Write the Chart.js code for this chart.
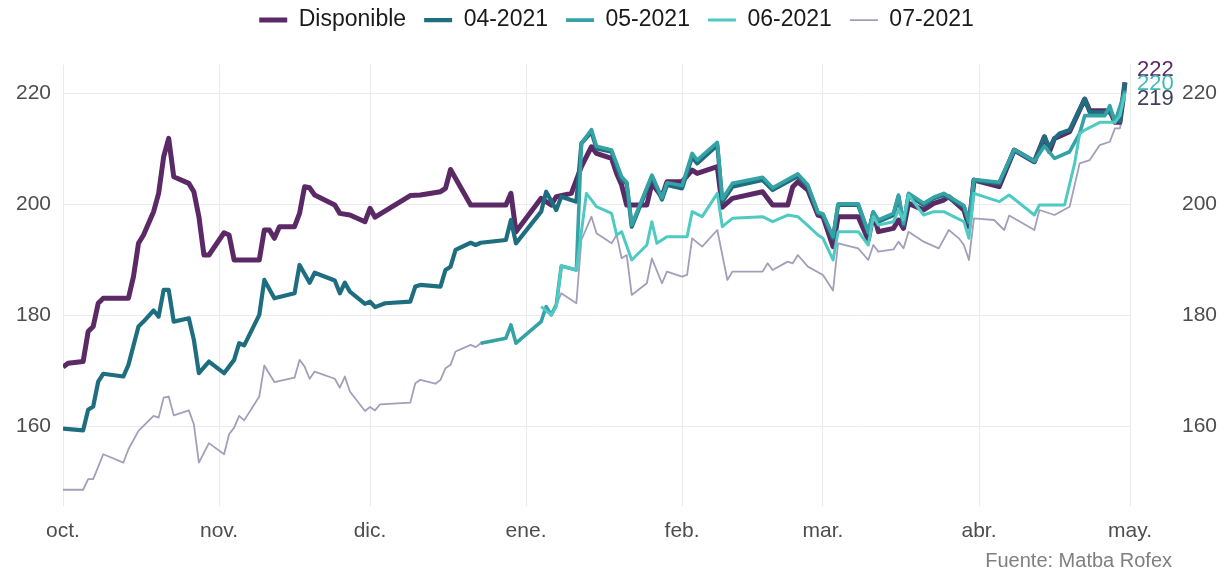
<!DOCTYPE html>
<html>
<head>
<meta charset="utf-8">
<script src="https://cdn.jsdelivr.net/npm/chart.js@4"></script>
<style>
  html, body { margin: 0; padding: 0; background: #fff; }
  #wrap { width: 1227px; height: 571px; position: relative; }
</style>
</head>
<body>
<div id="wrap"><canvas id="chart"></canvas></div>
<script>
// x = days since 1 Oct 2020
const monthStarts = [0, 31, 61, 92, 123, 151, 182, 212]
const monthLabels = ['oct.', 'nov.', 'dic.', 'ene.', 'feb.', 'mar.', 'abr.', 'may.']
const yTicks = [160, 180, 200, 220]

const seriesNames = ['Disponible', '04-2021', '05-2021', '06-2021', '07-2021']

const dispDays = [0,1,4,5,6,7,8,13,14,15,16,18,19,20,21,22,25,26,27,28,29,32,33,34,39,40,41,42,43,46,47,48,49,50,54,55,57,60,61,62,69,71,75,76,77,81,88,89,90,95,97,98,101,103,105,106,109,110,111,112,116,117,119,120,123,125,126,130,131,133,139,141,144,145,146,148,150,151,153,154,158,160,161,162,165,166,167,168,171,173,175,176,179,180,181,186,189,193,195,196,197,200,203,204,208,209,210,211]
const dispVals = [170.7,171.4,171.7,177.1,178.0,182.2,183.1,183.1,187.0,193.0,194.5,198.7,202.0,208.6,211.9,205.0,203.8,202.3,197.8,190.9,190.9,194.9,194.5,190.0,190.0,195.4,195.4,193.9,196.0,196.0,198.4,203.2,203.0,201.7,199.9,198.4,198.1,196.9,199.3,197.7,201.6,201.7,202.3,202.9,206.3,199.9,199.9,202.0,195.1,201.1,199.9,201.4,202.0,206.8,210.4,209.2,208.3,205.6,203.5,199.9,199.9,203.8,201.4,204.1,204.1,206.2,205.6,206.8,199.5,201.1,202.3,199.9,199.9,203.2,204.1,202.6,198.1,197.8,192.4,197.8,197.8,193.6,198.4,195.1,195.7,197.2,195.7,200.2,199.0,200.2,200.8,201.4,199.0,196.0,204.4,203.2,209.8,207.7,212.2,209.5,211.9,213.1,219.0,216.9,216.9,214.8,214.8,222]

const abrDays = [0,4,5,6,7,8,12,13,15,16,18,19,20,21,22,25,26,27,29,32,34,35,36,39,40,42,46,47,49,50,54,55,56,57,60,61,62,64,69,70,71,75,76,77,78,81,82,83,88,89,90,95,96,98,99,102,103,105,106,109,111,112,113,117,119,120,123,125,126,130,131,133,139,141,146,148,150,151,153,154,158,160,161,162,165,166,167,168,171,173,175,179,180,181,186,189,193,195,196,197,198,200,203,204,208,209,210,211]
const abrVals = [159.6,159.3,163.0,163.6,168.1,169.5,169.0,171.1,178.0,178.9,180.9,179.8,184.6,184.6,178.9,179.5,175.6,169.6,171.7,169.6,172.0,175.0,174.6,180.1,186.4,183.1,184.0,189.1,185.9,187.7,186.3,184.0,185.9,184.3,182.1,182.5,181.5,182.2,182.5,185.2,185.5,185.2,188.2,188.8,191.8,193.1,192.7,193.1,193.6,197.2,193.0,198.7,202.3,199.0,201.4,200.5,211.0,213.1,210.1,209.5,204.4,203.8,196.0,205.0,200.9,203.5,202.9,208.6,207.4,210.7,200.5,203.2,204.4,202.6,205.1,203.2,198.4,198.1,193.9,199.9,199.9,194.8,198.4,196.9,198.1,201.4,196.3,201.7,199.9,201.1,201.7,199.6,196.6,204.4,203.8,209.8,207.7,212.2,210.3,211.9,212.8,213.4,219.0,216.6,216.6,215.5,215.0,222]

const mayDays = [83,88,89,90,95,96,97,98,99,102,103,105,106,109,111,112,113,117,119,120,123,125,126,130,131,133,139,141,146,148,150,151,153,154,158,160,161,162,165,166,167,168,171,173,175,179,180,181,186,189,193,195,197,200,202,203,207,208,209,211]
const mayVals = [175.0,175.9,178.3,175.0,178.9,181.6,180.1,181.9,188.9,188.2,211.0,213.5,210.5,209.8,205.0,204.0,196.3,205.3,201.2,203.9,203.4,209.2,208.0,211.2,201.0,203.8,204.9,203.0,205.5,203.5,198.6,198.3,194.2,200.1,200.1,195.0,198.7,197.2,198.4,201.7,196.6,202.0,200.2,201.3,202.0,199.8,196.8,204.5,204.0,209.9,207.8,210.5,208.3,209.5,212.8,216.0,216.0,217.8,214.8,220.5]

const junDays = [95,97,98,99,102,104,106,109,110,111,113,116,117,118,120,124,125,127,130,131,133,139,141,144,146,148,150,151,153,154,158,160,161,162,165,166,167,168,171,173,175,179,180,181,186,188,193,194,199,201,202,203,206,209,210,211]
const junVals = [181.6,180.1,181.6,188.9,188.2,202.0,199.6,198.4,194.5,195.1,190.0,192.7,196.9,193.0,194.2,194.2,198.7,197.8,202.0,196.0,197.5,197.8,196.9,198.1,197.8,196.2,194.5,193.9,190.0,195.1,195.1,192.7,197.8,196.3,196.9,199.0,197.2,201.7,198.1,198.7,198.7,196.9,193.9,202.0,200.5,201.7,198.1,199.9,199.9,207.4,212.8,213.4,214.8,214.8,216.0,220]

const julDays = [0,4,5,6,8,12,13,15,18,19,20,21,22,25,26,27,29,32,33,34,35,36,39,40,42,46,47,48,49,50,54,55,56,57,60,61,62,63,69,70,71,74,75,76,77,78,81,82,83,88,89,90,95,96,97,98,99,102,103,105,106,109,110,111,112,113,116,117,119,120,123,124,125,127,130,132,133,139,140,141,144,145,146,148,151,153,154,158,160,161,162,165,166,167,168,171,174,176,178,179,180,181,185,187,188,193,194,197,200,202,204,206,208,209,210,211]
const julVals = [148.6,148.6,150.5,150.5,155.0,153.5,155.9,159.2,161.9,161.6,165.2,165.4,162.0,162.9,160.4,153.5,157.0,155.0,158.6,159.8,161.9,161.1,165.4,171.0,168.0,168.8,172.0,170.8,168.6,169.9,168.6,167.0,169.0,166.3,162.8,163.5,162.9,164.0,164.3,167.8,168.4,167.7,168.4,170.5,171.1,173.5,174.7,174.3,175.0,175.9,178.3,175.0,178.9,181.6,180.1,181.9,184.0,182.2,193.6,197.8,194.8,193.0,194.5,190.3,190.9,183.7,185.8,190.3,185.8,187.9,187.0,187.3,193.9,192.4,195.4,186.4,187.9,187.9,189.4,188.2,189.7,189.4,190.9,188.8,187.3,184.5,193.0,192.1,190.0,192.7,191.5,191.9,193.3,192.1,195.1,193.3,192.1,195.4,193.9,192.7,190.0,197.5,197.2,195.4,198.0,195.4,199.0,198.1,199.6,207.4,208.0,210.7,211.3,213.7,213.7,219]

const endLabels = ['222', '220', '219']
const endLabelValues = [222, 220, 219]
const caption = 'Fuente: Matba Rofex'

const FONT = "'Liberation Sans', Arial, sans-serif"
const colors = ['#5b2a66', '#1f6e80', '#35a3a6', '#4fcac3', '#a19fba']
const widths = [5, 4.2, 3.6, 3, 1.8]
const drawOrder = [4, 3, 2, 1, 5]
const endLabelColors = ['#5b2a66', '#3dbab4', '#3f405e']
const endLabelShift = [-12, -10, 0]

function pts(days, vals) {
    return days.map((d, i) => ({ x: d, y: vals[i] }))
}

const allDays = [dispDays, abrDays, mayDays, junDays, julDays]
const allVals = [dispVals, abrVals, mayVals, junVals, julVals]

const endLabelPlugin = {
    id: 'endLabels',
    afterLayout(chart) {
        // pull the legend up towards the top edge
        if (chart.legend) {
            chart.legend.top -= 23
            chart.legend.bottom -= 23
        }
    },
    afterDatasetsDraw(chart) {
        const { ctx, chartArea, scales } = chart
        ctx.save()
        ctx.font = `22px ${FONT}`
        ctx.textBaseline = 'middle'
        ctx.textAlign = 'left'
        endLabels.forEach((t, i) => {
            ctx.fillStyle = endLabelColors[i]
            ctx.fillText(t, chartArea.right + 7, scales.y.getPixelForValue(endLabelValues[i]) + endLabelShift[i])
        })
        ctx.font = `20px ${FONT}`
        ctx.fillStyle = '#7f7f7f'
        ctx.textAlign = 'right'
        ctx.fillText(caption, chart.width - 55, chart.height - 10)
        ctx.restore()
    }
}

new Chart(document.getElementById('chart').getContext('2d'), {
    type: 'line',
    data: {
        datasets: seriesNames.map((name, i) => ({
            label: name,
            data: pts(allDays[i], allVals[i]),
            borderColor: colors[i],
            backgroundColor: colors[i],
            borderWidth: widths[i],
            borderJoinStyle: 'round',
            pointRadius: 0,
            tension: 0,
            order: drawOrder[i]
        }))
    },
    options: {
        responsive: true,
        maintainAspectRatio: false,
        animation: false,
        layout: { padding: { left: 16, right: 10, top: 0, bottom: 9 } },
        plugins: {
            legend: {
                position: 'top',
                labels: {
                    usePointStyle: true,
                    pointStyle: 'line',
                    pointStyleWidth: 28,
                    color: '#1a1a1a',
                    font: { family: FONT, size: 23 },
                    padding: 18,
                    sort: (a, b) => a.datasetIndex - b.datasetIndex
                }
            },
            tooltip: { enabled: false }
        },
        scales: {
            x: {
                type: 'linear',
                min: 0,
                max: 212,
                afterBuildTicks: s => { s.ticks = monthStarts.map(v => ({ value: v })) },
                ticks: {
                    callback: v => monthLabels[monthStarts.indexOf(v)],
                    color: '#4d4d4d',
                    font: { family: FONT, size: 21 },
                    padding: 12,
                    maxRotation: 0,
                    autoSkip: false
                },
                grid: { color: '#ebebeb', lineWidth: 1, drawTicks: false },
                border: { display: false }
            },
            y: {
                position: 'left',
                min: 145.6,
                max: 225.2,
                afterBuildTicks: s => { s.ticks = yTicks.map(v => ({ value: v })) },
                afterFit: s => { s.width = 47 },
                ticks: {
                    color: '#4d4d4d',
                    font: { family: FONT, size: 21 },
                    padding: 12
                },
                grid: { color: '#ebebeb', lineWidth: 1, drawTicks: false },
                border: { display: false }
            },
            y2: {
                position: 'right',
                min: 145.6,
                max: 225.2,
                afterBuildTicks: s => { s.ticks = yTicks.map(v => ({ value: v })) },
                afterFit: s => { s.width = 87 },
                ticks: {
                    color: '#4d4d4d',
                    font: { family: FONT, size: 21 },
                    padding: 52
                },
                grid: { display: false, drawTicks: false },
                border: { display: false }
            }
        }
    },
    plugins: [endLabelPlugin]
})
</script>
</body>
</html>
